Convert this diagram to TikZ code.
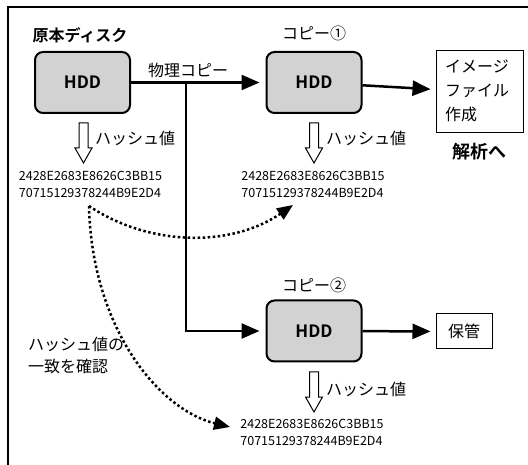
\documentclass[tikz,border=0pt]{standalone}
\usepackage{fontspec}
\setmainfont{Noto Sans CJK JP}
\newfontfamily\jpbold{Noto Sans CJK JP Bold}
\usetikzlibrary{arrows.meta}
\tikzset{
  hddbox/.style={draw, line width=2pt, rounded corners=8pt, fill=gray!35,
    minimum width=95pt, minimum height=61pt, inner sep=0pt,
    font=\jpbold\fontsize{17}{20}\selectfont},
  outbox/.style={draw, line width=1pt, inner sep=0pt},
  lbl/.style={font=\fontsize{16}{18}\selectfont, inner sep=0pt},
  blbl/.style={font=\jpbold\fontsize{16}{18}\selectfont, inner sep=0pt},
  hashtxt/.style={font=\fontsize{12.5}{16.5}\selectfont, align=left, inner sep=0pt},
  conn/.style={line width=2.5pt, -{Triangle[length=18pt,width=15pt]}},
  dotconn/.style={line width=2.5pt, dash pattern=on 2.5pt off 2.5pt,
    -{Triangle[length=16pt,width=13pt]}},
  hollow/.style={draw, line width=1pt, fill=white},
}
\begin{document}
\begin{tikzpicture}[x=1pt,y=-1pt]
\useasboundingbox (0,0) rectangle (528,465);
\draw[line width=1.5pt] (8,465) -- (8,7) -- (528,7);

% boxes
\node[hddbox] (hdd1) at (82.5,82.5) {HDD};
\node[hddbox] (hdd2) at (314,82.5) {HDD};
\node[hddbox] (hdd3) at (314,331) {HDD};
\node[outbox, minimum width=87pt, minimum height=82pt] (img) at (479.5,92) {};
\node[lbl, anchor=west, align=left, font=\fontsize{16}{24}\selectfont] (imgtxt) at (445,91) {イメージ\\ファイル\\作成};
\node[outbox, minimum width=56pt, minimum height=35pt, lbl] (keep) at (464,331.5) {保管};

% titles
\node[blbl] (t1) at (80,35) {原本ディスク};
\node[lbl] (t2) at (314,33) {コピー①};
\node[lbl] (t3) at (314,285) {コピー②};
\node[blbl, font=\jpbold\fontsize{18}{20}\selectfont] (t4) at (479,152) {解析へ};
\node[lbl] (phys) at (188,70) {物理コピー};

% hash values
\node[hashtxt] (h1) at (90.5,184.5) {2428E2683E8626C3BB15\\70715129378244B9E2D4};
\node[hashtxt] (h2) at (313,184.5) {2428E2683E8626C3BB15\\70715129378244B9E2D4};
\node[hashtxt] (h3) at (312,432.5) {2428E2683E8626C3BB15\\70715129378244B9E2D4};

% hash labels
\node[lbl, anchor=west] (hl1) at (95,138) {ハッシュ値};
\node[lbl, anchor=west] (hl2) at (326,138) {ハッシュ値};
\node[lbl, anchor=west] (hl3) at (326,389) {ハッシュ値};
\node[lbl, align=left, anchor=west] (chk) at (28,355.5) {ハッシュ値の\\[4pt]一致を確認};

% hollow arrows
\foreach \x/\y in {83.5/123, 314/123, 314/372}{
  \draw[hollow] (\x-4.5,\y) -- (\x+4.5,\y) -- (\x+4.5,\y+25) -- (\x+8.5,\y+25)
    -- (\x,\y+40) -- (\x-8.5,\y+25) -- (\x-4.5,\y+25) -- cycle;
}

% connectors
\draw[conn, shorten >=6pt] (hdd1) -- (hdd2);
\coordinate (br) at (186,82.5);
\draw[conn, shorten >=6pt] (br) |- (hdd3.west);
\draw[conn, shorten >=5pt] (hdd2) -- (img);
\draw[conn, shorten >=5pt] (hdd3) -- (keep);

% dotted comparison arrows
\coordinate (ds) at (89,206);
\coordinate (de1) at (293,205);
\coordinate (de2) at (230,427);
\draw[dotconn] (ds) .. controls (150,247) and (232,247) .. (de1);
\draw[dotconn] (ds) .. controls (92,330) and (160,410) .. (de2);
\end{tikzpicture}
\end{document}
